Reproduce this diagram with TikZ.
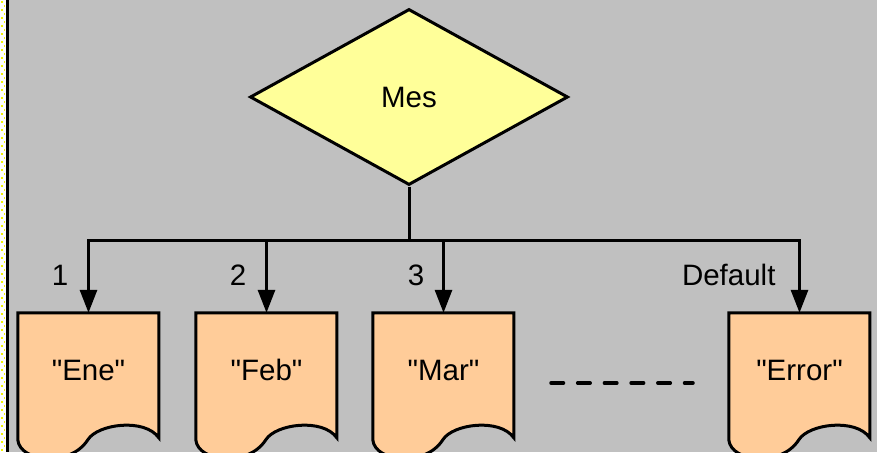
\documentclass[tikz,border=0pt]{standalone}
\usepackage{fontspec}
\setmainfont{Liberation Sans}[Ligatures=TeXOff]
\usetikzlibrary{shapes.geometric,arrows.meta}
\pgfdeclarelayer{bg}
\pgfdeclarelayer{shapes}
\pgfsetlayers{bg,shapes,main}

\definecolor{panelgray}{HTML}{C0C0C0}
\definecolor{decisionfill}{HTML}{FFFF99}
\definecolor{docfill}{HTML}{FFCC99}
\definecolor{stripdot}{HTML}{F2F200}

\tikzset{
  every node/.style={font=\fontsize{29.5}{34}\selectfont, text=black},
  decision/.style={diamond, draw=black, line width=3pt, fill=decisionfill,
    minimum width=318pt, minimum height=176pt, inner sep=0pt},
  docbox/.style={rectangle, minimum width=141pt, minimum height=127pt,
    inner sep=0pt, text height=21pt, text depth=14pt},
  docline/.style={draw=black, line width=3pt, fill=docfill, line join=miter},
  wire/.style={draw=black, line width=3pt},
  flowarrow/.style={wire, -{Triangle[length=23pt,width=17pt]}},
  caselabel/.style={anchor=base},
}

% outline of a document symbol hanging from the north west corner of a node
\newcommand\docoutline[1]{%
  \begin{pgfonlayer}{shapes}
    \draw[docline, shift={(#1.north west)}]
      (0,0) -- (0,127)
      .. controls (2,149) and (52,155) .. (70,127)
      .. controls (80,111) and (127,105) .. (141,125)
      -- (141,0) -- cycle;
  \end{pgfonlayer}}

\begin{document}
\begin{tikzpicture}[x=1pt,y=-1pt]
  \useasboundingbox (0,0) rectangle (877,452);
  \clip (0,0) rectangle (877,452);

  % panel and its dotted left margin
  \begin{pgfonlayer}{bg}
    \fill[panelgray] (0,0) rectangle (877,452);
    \fill[white] (0,0) rectangle (6,452);
    \foreach \k in {0,...,57} {
      \fill[stripdot] (1.2,{\k*8+1}) rectangle (2.8,{\k*8+2.6});
      \fill[stripdot] (3.8,{\k*8+5}) rectangle (5.4,{\k*8+6.6});
    }
    \fill[black] (6,0) rectangle (9,452);
  \end{pgfonlayer}

  % decision
  \node[decision] (mes) at (409,97) {\raisebox{-2.5pt}{Mes}};

  % cases
  \node[docbox] (ene) at (88.5,376.5) {"Ene"};
  \node[docbox] (feb) at (266.5,376.5) {"Feb"};
  \node[docbox] (mar) at (443.5,376.5) {"Mar"};
  \node[docbox] (err) at (799.5,376.5) {"Error"};
  \docoutline{ene}
  \docoutline{feb}
  \docoutline{mar}
  \docoutline{err}

  % branching bus
  \coordinate (bus) at (409,240);
  \draw[wire] (mes.south) -- (bus);
  \draw[wire, line cap=rect] (bus -| ene.north) -- (bus -| err.north);
  \foreach \n in {ene,feb,mar,err}
    \draw[flowarrow] (bus -| \n.north) -- (\n.north);

  % case values
  \node[caselabel] (l1) at (60,285) {1};
  \node[caselabel] (l2) at (238,285) {2};
  \node[caselabel] (l3) at (416,285) {3};
  \node[caselabel, anchor=base east] (ldef) at (779,285) {Default};

  % omitted cases
  \coordinate (gapa) at (551,383);
  \coordinate (gapb) at (693,383);
  \draw[black, line width=3.5pt, line cap=round, dash pattern=on 12.5pt off 14.2pt]
    (gapa) -- (gapb);
\end{tikzpicture}
\end{document}
